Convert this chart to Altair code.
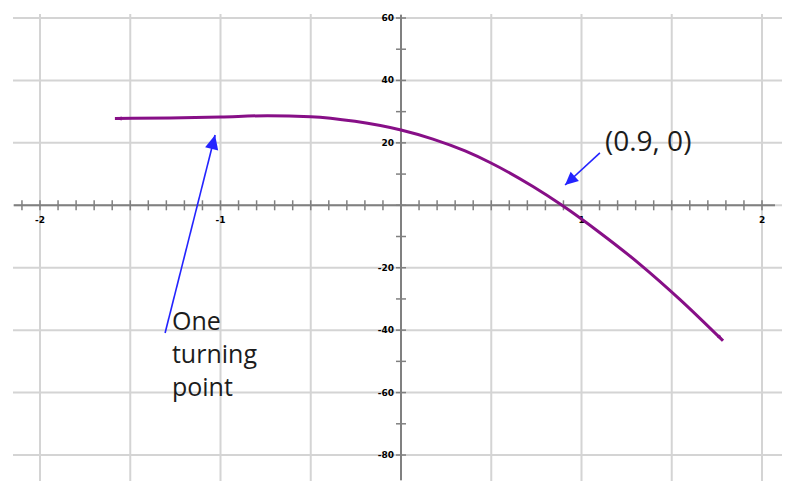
import altair as alt
import pandas as pd
import numpy as np

# ---- data ----
curve_x = [-1.585, -1.28, -1.0, -0.74, -0.5, -0.255, 0.0, 0.177, 0.355, 0.493,
           0.731, 0.892, 1.10, 1.324, 1.546, 1.784]
curve_y = [27.8, 28.0, 28.3, 28.7, 28.4, 26.9, 24.1, 21.2, 17.4, 13.7,
           6.0, 0.0, -8.7, -18.9, -30.2, -43.4]

grid_x = [-2.0, -1.5, -1.0, -0.5, 0.0, 0.5, 1.0, 1.5, 2.0]
grid_y = [60, 40, 20, 0, -20, -40, -60, -80]

x_label_vals = [-2, -1, 1, 2]
y_label_vals = [60, 40, 20, -20, -40, -60, -80]

x_minor = [round(v, 1) for v in np.arange(-2.1, 2.05, 0.1)]
y_minor = list(range(-80, 61, 10))

# annotation arrows: start -> tip (data coordinates)
ann_x1 = [-1.307, 1.102]
ann_y1 = [-40.9, 16.8]
ann_x2 = [-1.030, 0.909]
ann_y2 = [22.5, 6.5]
ann_angle = [14, 228]

ann_text = ["One\nturning\npoint", "(0.9, 0)"]

# ---- layout ----
W, H = 784, 485
XDOM = [-2.1773, 2.1662]
YDOM = [-92.17, 63.204]
xs = alt.Scale(domain=XDOM, nice=False, zero=False)
ys = alt.Scale(domain=YDOM, nice=False, zero=False)

GRID = "#d4d4d4"
AXIS = "#808080"
PURPLE = "#870f87"
BLUE = "#2424ff"
ARROW_SMALL = "M0,0L-0.6,2L0.6,2Z"
ARROW_BIG = "M0,0L-0.95,2L0.95,2Z"


def X(f):
    return alt.X(f, type="quantitative", scale=xs, axis=None)


def Y(f):
    return alt.Y(f, type="quantitative", scale=ys, axis=None)


vgrid_df = pd.DataFrame({"x": grid_x, "y1": 61.28, "y2": -88.33})
hgrid_df = pd.DataFrame({"y": grid_y, "x1": -2.1496, "x2": 2.1108})
axes_df = pd.DataFrame({"x1": [-2.144, 0.0], "x2": [2.072, 0.0],
                        "y1": [0.0, 60.96], "y2": [0.0, -88.0]})

vgrid = alt.Chart(vgrid_df).mark_rule(color=GRID, strokeWidth=2).encode(
    x=X("x"), y=Y("y1"), y2="y2")
hgrid = alt.Chart(hgrid_df).mark_rule(color=GRID, strokeWidth=2).encode(
    y=Y("y"), x=X("x1"), x2="x2")
axes = alt.Chart(axes_df).mark_rule(color=AXIS, strokeWidth=2).encode(
    x=X("x1"), x2="x2", y=Y("y1"), y2="y2")

xt = alt.Chart(pd.DataFrame({"x": x_minor, "y": 0.0})).mark_tick(
    orient="vertical", size=10, thickness=1.5, color=AXIS, opacity=1).encode(
    x=X("x"), y=Y("y"))
yt = alt.Chart(pd.DataFrame({"y": y_minor, "x": 0.0})).mark_tick(
    orient="horizontal", size=10, thickness=1.5, color=AXIS, opacity=1).encode(
    x=X("x"), y=Y("y"))

xlab = alt.Chart(pd.DataFrame({"x": x_label_vals, "y": -4.7,
                               "t": [str(v) for v in x_label_vals]})).mark_text(
    font="DejaVu Sans", fontSize=9, fontWeight="bold", color="#000000",
    align="center", baseline="middle").encode(x=X("x"), y=Y("y"), text="t:N")
ylab = alt.Chart(pd.DataFrame({"y": y_label_vals, "x": -0.039,
                               "t": [str(v) for v in y_label_vals]})).mark_text(
    font="DejaVu Sans", fontSize=9, fontWeight="bold", color="#000000",
    align="right", baseline="middle").encode(x=X("x"), y=Y("y"), text="t:N")

curve_df = pd.DataFrame({"x": curve_x, "y": curve_y, "o": range(len(curve_x))})
curve = alt.Chart(curve_df).mark_line(color=PURPLE, strokeWidth=3,
                                      interpolate="monotone").encode(
    x=X("x"), y=Y("y"), order="o:Q")

ends_df = pd.DataFrame({"x": [curve_x[0], curve_x[-1]],
                        "y": [curve_y[0], curve_y[-1]],
                        "a": [270, 137]})
ends = alt.Chart(ends_df).mark_point(shape=ARROW_SMALL, filled=True, size=45,
                                     color=PURPLE, opacity=1).encode(
    x=X("x"), y=Y("y"), angle=alt.Angle("a:Q", scale=None))

ann_df = pd.DataFrame({"x1": ann_x1, "y1": ann_y1, "x2": ann_x2, "y2": ann_y2,
                       "a": ann_angle, "s": [200, 170]})
ann_lines = alt.Chart(ann_df).mark_rule(color=BLUE, strokeWidth=1.6).encode(
    x=X("x1"), y=Y("y1"), x2="x2", y2="y2")
ann_heads = alt.Chart(ann_df).mark_point(shape=ARROW_BIG, filled=True,
                                         color=BLUE, opacity=1).encode(
    x=X("x2"), y=Y("y2"), angle=alt.Angle("a:Q", scale=None),
    size=alt.Size("s:Q", scale=None))

txt1 = alt.Chart(pd.DataFrame({"x": [-1.269], "y": [-37.4], "t": [ann_text[0]]})).mark_text(
    font="Open Sans", fontSize=25, color="#1c1c1c", align="left",
    baseline="middle", lineBreak="\n", lineHeight=33).encode(
    x=X("x"), y=Y("y"), text="t:N")
txt2 = alt.Chart(pd.DataFrame({"x": [1.130], "y": [19.95], "t": [ann_text[1]]})).mark_text(
    font="Open Sans", fontSize=28, color="#1c1c1c", align="left",
    baseline="middle").encode(x=X("x"), y=Y("y"), text="t:N")

chart = alt.layer(vgrid, hgrid, axes, xt, yt, xlab, ylab, curve, ends,
                  ann_lines, ann_heads, txt1, txt2).properties(
    width=W, height=H, padding=0, background="white"
).configure_view(stroke=None)

chart.save("out.html", embed_options={"renderer": "svg", "actions": False})
